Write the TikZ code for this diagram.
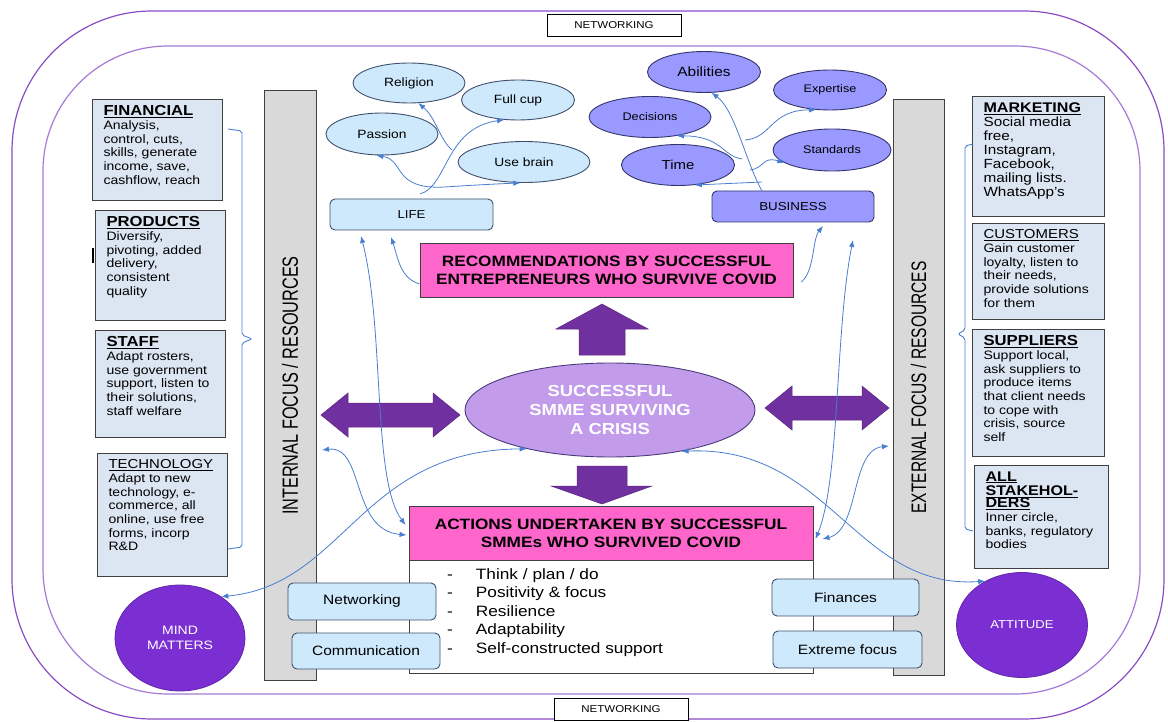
\documentclass[tikz,border=0pt]{standalone}
\usepackage{fontspec}
\setmainfont{Liberation Sans}[FakeStretch=1.15]
\newfontfamily\barfont{Liberation Sans}[FakeStretch=0.74]
\usepackage{tikz}
\usetikzlibrary{positioning,calc,shapes.geometric,arrows.meta}

\definecolor{outerline}{HTML}{8A4CC4}
\definecolor{innerline}{HTML}{A47AD6}
\definecolor{catfill}{HTML}{DCE6F2}
\definecolor{edgegray}{HTML}{404040}
\definecolor{lifefill}{HTML}{CDE9FB}
\definecolor{lifeline}{HTML}{41506E}
\definecolor{bizfill}{HTML}{9999FF}
\definecolor{bizline}{HTML}{34346C}
\definecolor{pinkfill}{HTML}{FF66CC}
\definecolor{smmefill}{HTML}{C29BEA}
\definecolor{smmeline}{HTML}{4A3C7A}
\definecolor{arrowpurple}{HTML}{7030A0}
\definecolor{circlefill}{HTML}{7B2FD3}
\definecolor{barfill}{HTML}{D9D9D9}
\definecolor{connblue}{HTML}{4A7ECF}

% 字体
\newcommand{\headbig}{\fontsize{14.5}{15}\selectfont\bfseries}
\newcommand{\headmid}{\fontsize{14}{14.5}\selectfont\bfseries}
\newcommand{\headlight}{\fontsize{13}{15}\selectfont}
\newcommand{\bodytext}{\fontsize{12.2}{13.7}\selectfont}
\newcommand{\cattext}[3]{\parbox[c][#1][t]{#2}{\raggedright #3}}

\begin{document}
\begin{tikzpicture}[x=1pt,y=-1pt,
    catbox/.style={draw=edgegray, fill=catfill, line width=1.1pt, inner xsep=11pt, inner ysep=6pt, anchor=north west},
    lifeoval/.style={ellipse, draw=lifeline, fill=lifefill, line width=0.9pt, inner sep=0pt, font=\fontsize{12}{14}\selectfont},
    bizoval/.style={ellipse, draw=bizline, fill=bizfill, line width=0.9pt, inner sep=0pt, font=\fontsize{11}{13}\selectfont},
    lifebox/.style={rectangle, rounded corners=5pt, draw=lifeline, fill=lifefill, line width=0.9pt, inner sep=0pt, font=\fontsize{13.5}{16}\selectfont},
    bizbox/.style={rectangle, rounded corners=5pt, draw=bizline, fill=bizfill, line width=0.9pt, inner sep=0pt, font=\fontsize{11.6}{14}\selectfont},
    pinkbox/.style={rectangle, draw=edgegray, fill=pinkfill, line width=0.9pt, inner sep=0pt, align=center, font=\fontsize{15}{18}\selectfont\bfseries},
    graybar/.style={rectangle, draw=edgegray, fill=barfill, line width=1pt, inner sep=0pt},
    purplecircle/.style={ellipse, draw=circlefill!80!black, fill=circlefill, line width=0.8pt, text=white, align=center, inner sep=0pt, font=\fontsize{12.2}{15}\selectfont},
    netbox/.style={rectangle, draw=black, fill=white, line width=0.8pt, inner sep=0pt, font=\fontsize{10}{12}\selectfont},
    bigarrow/.style={fill=arrowpurple, draw=arrowpurple!80!black, line width=0.5pt},
    conn/.style={connblue, line width=0.8pt, -{Latex[length=7pt,width=5.5pt]}},
    conn2/.style={connblue, line width=0.8pt, {Latex[length=7pt,width=5.5pt]}-{Latex[length=7pt,width=5.5pt]}},
    bracket/.style={connblue, line width=0.9pt},
]
    \useasboundingbox (0,0) rectangle (1168,722);

    % 外框
    \draw[outerline, line width=1.2pt, rounded corners=140pt] (12,11) rectangle (1164,719);
    \draw[innerline, line width=1.2pt, rounded corners=125pt] (43,46) rectangle (1140,694);
    \node[netbox, minimum width=134pt, minimum height=22pt] (nettop) at (614,25) {NETWORKING};
    \node[netbox, minimum width=134pt, minimum height=22pt] (netbot) at (621,709) {NETWORKING};

    % 灰色竖条
    \node[graybar, minimum width=52pt, minimum height=589pt] (leftbar) at (290,385.5) {};
    \node[graybar, minimum width=51pt, minimum height=575pt] (rightbar) at (918.5,387.5) {};
    \node[rotate=90, font=\barfont\fontsize{22}{22}\selectfont] at (leftbar) {INTERNAL FOCUS / RESOURCES};
    \node[rotate=90, font=\barfont\fontsize{21}{21}\selectfont] at (rightbar) {EXTERNAL FOCUS / RESOURCES};

    % 左侧方框
    \node[catbox] (fin) at (92,99) {\cattext{89pt}{108pt}{{\headbig\underline{FINANCIAL}}\par\bodytext
        Analysis,\\control, cuts,\\skills, generate\\income, save,\\cashflow, reach}};
    \node[catbox] (prod) at (95,210) {\cattext{98pt}{108pt}{{\headbig\underline{PRODUCTS}}\par\bodytext
        Diversify,\\pivoting, added\\delivery,\\consistent\\quality}};
    \node[catbox] (staff) at (95,330) {\cattext{95pt}{108pt}{{\headbig\underline{STAFF}}\par\bodytext
        Adapt rosters,\\use government\\support, listen to\\their solutions,\\staff welfare}};
    \node[catbox] (tech) at (97,453) {\cattext{111pt}{108pt}{{\headlight\underline{TECHNOLOGY}}\par\bodytext
        Adapt to new\\technology, e-\\commerce, all\\online, use free\\forms, incorp\\R\&D}};
    \draw[line width=1.3pt] (93,248) -- (93,263);

    % 右侧方框
    \node[catbox] (mark) at (972,96) {\cattext{108pt}{110pt}{{\headmid\underline{MARKETING}}\par\fontsize{13.3}{14.1}\selectfont
        Social media\\free,\\Instagram,\\Facebook,\\mailing lists.\\WhatsApp’s}};
    \node[catbox] (cust) at (972,223) {\cattext{84pt}{110pt}{{\headlight\underline{CUSTOMERS}}\par\bodytext
        Gain customer\\loyalty, listen to\\their needs,\\provide solutions\\for them}};
    \node[catbox] (supp) at (972,329) {\cattext{115pt}{110pt}{{\headbig\underline{SUPPLIERS}}\par\bodytext
        Support local,\\ask suppliers to\\produce items\\that client needs\\to cope with\\crisis, source\\self}};
    \node[catbox] (stake) at (974,465) {\cattext{91pt}{112pt}{{\headmid\underline{ALL}\\\underline{STAKEHOL-}\\\underline{DERS}}\par\bodytext
        Inner circle,\\banks, regulatory\\bodies}};

    % 括号线
    \draw[bracket, rounded corners=2pt] (228,129) -- (242,131) -- (242,335) -- (252,339) -- (242,343) -- (242,547) -- (228,549);
    \draw[bracket, rounded corners=2pt] (973,144) -- (965,146) -- (965,330) -- (958,334) -- (965,338) -- (965,529) -- (973,531);

    % 上方椭圆
    \node[lifeoval, minimum width=112pt, minimum height=40pt] (relig) at (409,83) {Religion};
    \node[lifeoval, minimum width=113pt, minimum height=40pt] (fullcup) at (518,100) {Full cup};
    \node[lifeoval, minimum width=112pt, minimum height=42pt] (passion) at (382,134) {Passion};
    \node[lifeoval, minimum width=132pt, minimum height=41pt] (usebrain) at (524,162) {Use brain};
    \node[lifebox, minimum width=163pt, minimum height=31pt, font=\fontsize{11.5}{14}\selectfont] (life) at (411.5,214.5) {LIFE};

    \node[bizoval, minimum width=113pt, minimum height=41pt, font=\fontsize{13.4}{15}\selectfont] (abil) at (704,72) {Abilities};
    \node[bizoval, minimum width=113pt, minimum height=40pt] (expert) at (830,90) {Expertise};
    \node[bizoval, minimum width=122pt, minimum height=41pt] (decis) at (650,117) {Decisions};
    \node[bizoval, minimum width=113pt, minimum height=41pt, font=\fontsize{13}{15}\selectfont] (timen) at (678,165) {Time};
    \node[bizoval, minimum width=118pt, minimum height=42pt] (stand) at (832,150) {Standards};
    \node[bizbox, minimum width=162pt, minimum height=31pt] (business) at (793,206.5) {BUSINESS};

    % 中间部分
    \node[pinkbox, minimum width=373pt, minimum height=54pt] (recom) at (606.5,270)
        {RECOMMENDATIONS BY SUCCESSFUL\\ENTREPRENEURS WHO SURVIVE COVID};
    \node[pinkbox, minimum width=404pt, minimum height=54pt] (actions) at (611,533)
        {ACTIONS UNDERTAKEN BY SUCCESSFUL\\SMMEs WHO SURVIVED COVID};
    \node[rectangle, draw=edgegray, fill=white, line width=0.9pt, minimum width=404pt, minimum height=113pt] (listbox) at (611,616.5) {};
    \node[anchor=north west, inner sep=0pt, font=\fontsize{15}{18.5}\selectfont] (listtext) at (447,566)
        {\begin{tabular}{@{}l@{\hspace{23pt}}l@{}}
        -& Think / plan / do\\
        -& Positivity \& focus\\
        -& Resilience\\
        -& Adaptability\\
        -& Self-constructed support
        \end{tabular}};
    \node[ellipse, draw=smmeline, fill=smmefill, line width=0.9pt, minimum width=290pt, minimum height=94pt,
        inner sep=0pt, align=center, text=white, font=\fontsize{16}{19}\selectfont\bfseries] (smme) at (610,410)
        {SUCCESSFUL\\SMME SURVIVING\\A CRISIS};

    % 粗箭头
    \fill[bigarrow] (579,355) -- (579,329) -- (556,329) -- (602,304) -- (648,329) -- (625,329) -- (625,355) -- cycle;
    \fill[bigarrow] (577,466) -- (627,466) -- (627,486) -- (652,486) -- (602,504) -- (551,486) -- (577,486) -- cycle;
    \fill[bigarrow] (321,415) -- (348,393) -- (348,403) -- (433,403) -- (433,393) -- (460,415)
        -- (433,437) -- (433,427) -- (348,427) -- (348,437) -- cycle;
    \fill[bigarrow] (765,408) -- (792,386) -- (792,396) -- (862,396) -- (862,386) -- (889,408)
        -- (862,430) -- (862,420) -- (792,420) -- (792,430) -- cycle;

    % 圆
    \node[purplecircle, minimum width=130pt, minimum height=106pt] (mind) at (180,638) {MIND\\MATTERS};
    \node[purplecircle, minimum width=131pt, minimum height=105pt, font=\fontsize{11.4}{14}\selectfont] (attitude) at (1022,625) {ATTITUDE};

    % 连线 LIFE
    \coordinate (lifehub) at (420,194);
    \coordinate (lifefork) at (452,150);
    \draw[conn] (lifehub) .. controls (448,186) and (445,128) .. (fullcup.235);
    \draw[conn] (lifefork) .. controls (440,140) and (436,118) .. (relig.-65);
    \draw[conn2] (passion.-105) .. controls (405,160) and (392,190) .. (445,187)
        .. controls (475,185) and (495,184) .. (usebrain.-100);

    % 连线 BUSINESS
    \coordinate (bizhub) at (762,191);
    \coordinate (bizfork) at (745,140);
    \coordinate (bizfork2) at (750,170);
    \coordinate (bizfork3) at (742,159);
    \coordinate (bizlow) at (762,182);
    \draw[conn] (bizhub) .. controls (745,160) and (735,110) .. (abil.-70);
    \draw[conn] (bizfork) .. controls (772,138) and (770,110) .. (expert.235);
    \draw[conn] (bizfork2) .. controls (765,168) and (762,156) .. (stand.195);
    \draw[conn] (bizfork3) .. controls (722,156) and (722,136) .. (decis.-35);
    \draw[conn] (bizlow) -- (timen.-50);

    % 长连线
    \coordinate (lifetipA) at (361,236);
    \coordinate (lifetipB) at (391,237);
    \coordinate (biztipA) at (823,226);
    \coordinate (biztipB) at (853,240);
    \coordinate (lbarpt) at (322,450);
    \coordinate (rbarpt) at (889,446);
    \draw[conn2] (lifetipA) .. controls (385,330) and (372,480) .. ($(actions.west)+(-3,-8)$);
    \draw[conn] ($(recom.west)+(0,14)$) .. controls (400,278) and (398,258) .. (lifetipB);
    \draw[conn] ($(recom.east)+(8,12)$) .. controls (815,270) and (812,240) .. (biztipA);
    \draw[conn2] (biztipB) .. controls (835,330) and (840,480) .. ($(actions.east)+(2,6)$);
    \draw[conn2] (lbarpt) .. controls (365,445) and (350,530) .. ($(actions.west)+(-2,2)$);
    \draw[conn2] (rbarpt) .. controls (850,450) and (860,530) .. ($(actions.east)+(9,6)$);
    \draw[conn2] (smme.205) .. controls (360,450) and (345,585) .. (mind.45);
    \draw[conn2] (smme.-30) .. controls (830,445) and (855,590) .. (attitude.130);

    % 下方小框
    \node[lifebox, minimum width=148pt, minimum height=37pt] (netw) at (362,601.5) {Networking};
    \node[lifebox, minimum width=148pt, minimum height=36pt] (comm) at (366,651) {Communication};
    \node[lifebox, minimum width=147pt, minimum height=37pt] (finan) at (845.5,597.5) {Finances};
    \node[lifebox, minimum width=149pt, minimum height=37pt] (extreme) at (847.5,649.5) {Extreme focus};

\end{tikzpicture}
\end{document}
